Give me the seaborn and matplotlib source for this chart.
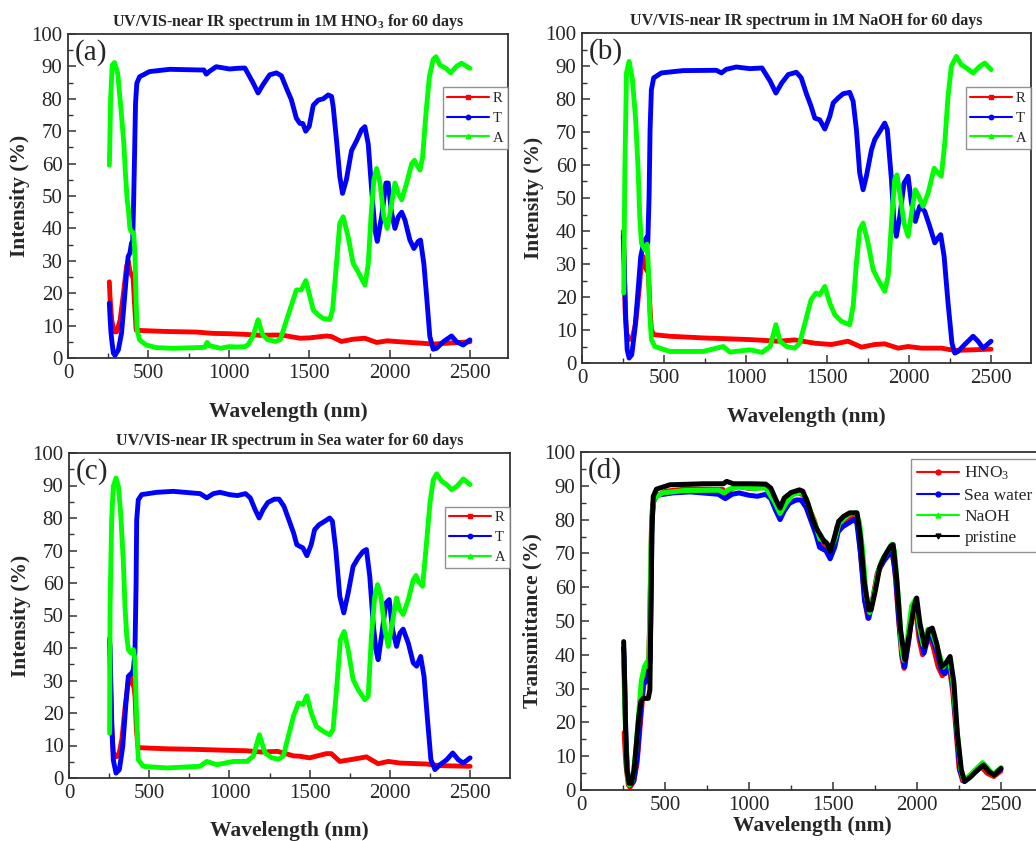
import numpy as np
import pandas as pd
import matplotlib
matplotlib.use("Agg")
import matplotlib.pyplot as plt
from matplotlib.lines import Line2D
from matplotlib.ticker import MultipleLocator
import seaborn as sns

sns.set_style("white")
plt.rcParams['font.family'] = ['Liberation Serif', 'DejaVu Serif']
plt.rcParams['mathtext.fontset'] = 'custom'
plt.rcParams['mathtext.rm'] = 'Liberation Serif'
plt.rcParams['mathtext.bf'] = 'Liberation Serif:bold'
plt.rcParams['mathtext.it'] = 'Liberation Serif:italic'

# ---------------- data ----------------
# Panel (a): 1M HNO3
a_T_wl = [257, 262, 267, 272, 282, 292, 313, 333, 349, 364, 374, 385, 395, 401, 408, 414, 420, 428, 445, 507, 632, 818, 845, 860, 880, 922, 1005, 1050, 1100, 1150, 1182, 1213, 1254, 1296, 1327, 1358, 1389, 1420, 1442, 1460, 1478, 1500, 1525, 1556, 1587, 1618, 1639, 1649, 1670, 1690, 1707, 1731, 1763, 1794, 1825, 1846, 1867, 1888, 1909, 1923, 1950, 1977, 1991, 2012, 2033, 2054, 2075, 2095, 2126, 2151, 2178, 2192, 2213, 2230, 2250, 2271, 2292, 2333, 2385, 2416, 2457, 2499]
a_T = [17, 12, 8, 5.5, 1.5, 0.8, 2.5, 7.7, 17, 26, 31.3, 32.4, 35.5, 34, 47.8, 63, 78.7, 84.8, 86.8, 88.4, 89.1, 88.9, 88.9, 87.6, 88.5, 89.9, 89.2, 89.4, 89.5, 85, 81.8, 84.4, 87.4, 88, 87.1, 83.3, 79.7, 74, 72.4, 72.4, 70, 71.5, 78, 79.6, 80, 81.2, 80.7, 77.6, 67, 56, 50.8, 55, 64, 67, 70.4, 71.4, 66, 52, 39.5, 36, 43.6, 54, 54, 44.7, 40, 43.6, 45, 42.6, 36.4, 33.8, 36, 36.4, 29, 19, 6.6, 2.7, 3, 5, 6.8, 5, 4, 5.6]
a_A_wl = [257, 259, 265, 275, 289, 309, 330, 347, 357, 368, 376, 385, 393, 408, 416, 424, 430, 445, 486, 550, 650, 800, 850, 865, 880, 950, 1000, 1050, 1100, 1120, 1150, 1182, 1210, 1240, 1290, 1320, 1350, 1380, 1420, 1450, 1479, 1504, 1525, 1556, 1587, 1628, 1645, 1666, 1690, 1711, 1742, 1773, 1804, 1846, 1867, 1884, 1902, 1919, 1940, 1964, 1985, 2006, 2033, 2054, 2075, 2106, 2137, 2154, 2168, 2189, 2205, 2226, 2247, 2271, 2288, 2313, 2350, 2379, 2416, 2447, 2499]
a_A = [59.5, 64, 80, 90.4, 91.2, 87.9, 76.5, 66.3, 57, 48.8, 45.7, 40, 39, 38.6, 32.4, 17, 8.6, 5.6, 4, 3.2, 3, 3.2, 3.3, 4.8, 3.8, 3, 3.5, 3.4, 3.5, 4.1, 6.7, 11.8, 7.2, 5.7, 5.1, 5.7, 10.3, 14.9, 21, 21, 23.9, 19, 14.8, 13.3, 12.2, 11.9, 14.8, 27, 41.6, 43.6, 37.4, 29.2, 26.6, 22.5, 29, 43.6, 55, 58.5, 54, 43.6, 40, 45.7, 54, 50.8, 48.8, 54, 60, 61, 59.6, 58, 62, 75.5, 86.8, 92.2, 93, 90.4, 89.4, 88, 90, 91, 89.4]
a_R_wl = [257, 261, 272, 286, 303, 324, 345, 364, 374, 385, 395, 405, 414, 424, 445, 600, 800, 900, 1000, 1100, 1200, 1300, 1350, 1442, 1500, 1608, 1639, 1700, 1773, 1846, 1919, 1985, 2064, 2189, 2271, 2499]
a_R = [23.5, 19, 11.7, 8.1, 8.1, 11.7, 20, 28.2, 30, 26.8, 25.7, 24.7, 16.6, 8.6, 8.5, 8.2, 8, 7.6, 7.5, 7.3, 7.0, 7.1, 6.9, 6.1, 6.2, 6.8, 6.6, 5.1, 5.8, 6.1, 4.8, 5.3, 5.0, 4.6, 4.3, 5.0]

# Panel (b): 1M NaOH
b_T_wl = [252, 258, 266, 276, 288, 304, 323, 343, 359, 377, 394, 402, 410, 416, 424, 438, 485, 617, 821, 852, 882, 943, 1025, 1100, 1150, 1185, 1220, 1260, 1310, 1340, 1370, 1400, 1423, 1453, 1484, 1514, 1535, 1565, 1596, 1636, 1657, 1677, 1697, 1718, 1738, 1769, 1789, 1820, 1850, 1866, 1891, 1907, 1921, 1942, 1968, 1993, 2013, 2037, 2064, 2094, 2125, 2156, 2176, 2192, 2213, 2237, 2261, 2278, 2298, 2339, 2390, 2420, 2451, 2500]
b_T = [38.4, 30.3, 15.2, 4, 1.5, 2.5, 10.1, 22.2, 32.3, 36.4, 38, 36.4, 50.5, 70.7, 82.8, 86.4, 87.9, 88.6, 88.7, 87.9, 89, 89.7, 89.2, 89.4, 85.4, 81.8, 84.8, 87.4, 88.1, 86.4, 81.8, 77.8, 74.2, 73.7, 70.9, 74.7, 78.8, 80.3, 81.6, 82, 79.3, 70.7, 57.6, 52.5, 56.6, 64.6, 67.7, 70.2, 72.7, 70.7, 55.6, 42.4, 38.4, 44.4, 54.5, 56.6, 48.5, 42.9, 47.5, 46, 41.4, 36.4, 37.9, 38.9, 32.3, 18.2, 6, 3, 3.5, 5.6, 8.1, 6.6, 4.5, 6.6]
b_A_wl = [255, 262, 272, 288, 308, 328, 343, 353, 363, 384, 398, 406, 414, 424, 445, 537, 740, 863, 904, 1026, 1100, 1150, 1185, 1210, 1250, 1300, 1330, 1360, 1400, 1430, 1453, 1484, 1514, 1545, 1586, 1636, 1657, 1677, 1697, 1718, 1748, 1779, 1809, 1850, 1871, 1891, 1911, 1925, 1942, 1968, 1993, 2017, 2037, 2058, 2084, 2115, 2152, 2176, 2196, 2217, 2237, 2257, 2288, 2318, 2349, 2390, 2431, 2461, 2500]
b_A = [21.2, 59, 87.9, 91.4, 85.9, 73.7, 58.6, 44.4, 36.4, 34.3, 36, 28.3, 15.2, 7.1, 5, 3.5, 3.5, 5, 3.3, 4, 3.2, 5, 11.6, 6.6, 5, 4.5, 6, 11.6, 19.2, 21.2, 20.7, 23.2, 18.2, 14.6, 12.6, 11.6, 17.2, 30.3, 40.4, 42.4, 36.4, 28.3, 25.3, 21.7, 26.3, 42.4, 55.6, 57, 51.5, 42.4, 38.4, 46.5, 52.5, 50.5, 47.5, 51.5, 59, 57.6, 56.6, 66.7, 80.8, 89.9, 92.9, 90.4, 89.4, 87.9, 89.9, 90.9, 88.9]
b_R_wl = [252, 258, 264, 272, 288, 308, 328, 349, 363, 373, 384, 394, 406, 414, 424, 438, 537, 740, 1025, 1200, 1300, 1423, 1524, 1626, 1708, 1789, 1850, 1932, 1993, 2074, 2196, 2278, 2500]
b_R = [39.9, 30, 15.2, 9.1, 7.1, 7.6, 12.1, 22.2, 30.3, 32.3, 29.3, 28.3, 27.3, 18.2, 10.1, 8.6, 8.1, 7.6, 7.1, 6.6, 7, 6, 5.6, 6.6, 4.8, 5.6, 5.8, 4.5, 5, 4.5, 4.5, 3.8, 4.2]

# Panel (c): Sea water
c_T_wl = [253, 256, 266, 276, 293, 314, 335, 355, 370, 391, 401, 411, 418, 422, 432, 453, 547, 650, 817, 859, 900, 941, 1000, 1050, 1100, 1130, 1160, 1185, 1210, 1240, 1280, 1310, 1340, 1370, 1400, 1420, 1438, 1458, 1483, 1510, 1531, 1558, 1594, 1625, 1642, 1663, 1688, 1713, 1740, 1771, 1802, 1833, 1854, 1875, 1896, 1913, 1927, 1948, 1975, 1996, 2017, 2042, 2063, 2083, 2115, 2146, 2167, 2192, 2213, 2233, 2256, 2281, 2313, 2354, 2392, 2427, 2458, 2500]
c_T = [42, 40, 18, 5.6, 1.5, 2.6, 9.7, 23, 31.3, 32.3, 33.3, 38.5, 59, 79.5, 85.6, 87.2, 87.9, 88.2, 87.5, 86.2, 87.5, 87.9, 87.2, 86.9, 87.5, 86.2, 82.6, 80, 82.6, 84.8, 85.8, 85.8, 83.6, 79.5, 75.4, 71.8, 71.3, 70.8, 68.4, 71.8, 76.4, 77.9, 79, 80, 79, 70.3, 55.9, 50.8, 56.9, 65.1, 67.7, 69.7, 70.3, 62, 47.7, 39.5, 36.4, 43.6, 53.8, 54.9, 45.6, 40.5, 44.6, 45.8, 41.5, 35.4, 34.4, 37.4, 31.3, 19, 5.6, 2.6, 4.1, 5.6, 7.7, 5.6, 4.6, 6.2]
c_A_wl = [253, 256, 266, 276, 293, 308, 322, 339, 349, 360, 370, 385, 401, 411, 422, 432, 463, 609, 817, 859, 921, 1025, 1108, 1149, 1187, 1222, 1264, 1305, 1336, 1367, 1399, 1430, 1458, 1483, 1510, 1542, 1583, 1625, 1646, 1671, 1692, 1715, 1740, 1771, 1802, 1844, 1865, 1885, 1906, 1923, 1944, 1969, 1990, 2015, 2042, 2063, 2083, 2115, 2146, 2163, 2177, 2204, 2225, 2250, 2271, 2292, 2323, 2354, 2385, 2417, 2458, 2500]
c_A = [13.8, 52.8, 79.5, 89.7, 92.3, 89.7, 81.5, 66.2, 52.8, 43.6, 39.5, 38.5, 39.5, 36.4, 18, 5.6, 3.6, 3.1, 3.6, 5.1, 4.1, 5.1, 5.1, 6.7, 13.3, 7.7, 6.2, 5.8, 6.7, 12.8, 19, 23.1, 22.6, 25.3, 20, 15.9, 14.4, 13.3, 14.9, 29.2, 42.6, 45.1, 39.5, 30.3, 27.2, 24.1, 25.1, 43.6, 55.9, 59.5, 55.9, 45.6, 40.5, 47.7, 55.4, 51.8, 50.3, 54.9, 61, 62.3, 60.5, 59, 70.3, 84.6, 91.8, 93.6, 91.3, 90.3, 88.7, 89.7, 92, 90.3]
c_R_wl = [253, 256, 266, 276, 293, 310, 330, 350, 370, 385, 395, 405, 412, 420, 430, 450, 600, 800, 1000, 1100, 1200, 1300, 1400, 1438, 1500, 1604, 1635, 1688, 1750, 1854, 1927, 1990, 2063, 2229, 2313, 2500]
c_R = [43, 35, 15, 8, 6.5, 7, 12, 22, 30, 32, 29, 28, 25, 15, 9.5, 9.3, 9, 8.8, 8.5, 8.4, 8, 8.2, 6.8, 6.7, 6.2, 7.5, 7.5, 5.1, 5.6, 6.5, 4.4, 5.1, 4.6, 4.3, 3.8, 3.6]

# Panel (d): pristine transmittance
p_wl = [254, 260, 266, 274, 286, 300, 316, 330, 344, 356, 370, 400, 410, 416, 422, 430, 449, 529, 728, 847, 867, 907, 1006, 1100, 1130, 1160, 1185, 1210, 1250, 1300, 1320, 1350, 1380, 1400, 1424, 1448, 1464, 1484, 1504, 1534, 1564, 1600, 1643, 1663, 1687, 1713, 1727, 1753, 1779, 1806, 1842, 1858, 1878, 1902, 1928, 1952, 1982, 1998, 2017, 2047, 2071, 2091, 2117, 2145, 2171, 2197, 2220, 2240, 2264, 2284, 2320, 2360, 2396, 2429, 2459, 2500]
p_T = [43.9, 31.6, 16.8, 5.9, 2, 2, 5.9, 13.8, 21.7, 26.2, 27.1, 27.1, 29.6, 53.3, 76, 86.9, 89, 90.3, 90.6, 90.6, 91.3, 90.6, 90.6, 90.5, 89.3, 85.9, 83.4, 86.4, 88, 88.8, 88.4, 84.9, 80, 77.5, 75.5, 73.5, 73, 70.6, 74, 79.5, 81, 82, 82, 75, 61.2, 53.3, 53.3, 59.2, 66.1, 69.1, 72.1, 72.6, 63.2, 47.4, 38.5, 45.4, 54.3, 56.8, 49.4, 42.4, 47.4, 47.9, 43.4, 36.5, 37.5, 39.5, 31.6, 16.8, 5.9, 2.5, 3.9, 5.9, 7.4, 5.4, 4.4, 6.4]

titles = ["UV/VIS-near IR spectrum in 1M HNO$_{\\mathbf{3}}$ for 60 days",
          "UV/VIS-near IR spectrum in 1M NaOH for 60 days",
          "UV/VIS-near IR spectrum in Sea water for 60 days"]
panel_labels = ["(a)", "(b)", "(c)", "(d)"]
rta_labels = ["R", "T", "A"]
d_labels = ["HNO$_3$", "Sea water", "NaOH", "pristine"]

RED, BLUE, GREEN, BLACK = "#ff0000", "#0000ff", "#00ff00", "#000000"

fig = plt.figure(figsize=(10.36, 8.41), dpi=100)
W, H = 1036, 841

def px_axes(l, t, r, b):
    return fig.add_axes([l / W, 1 - b / H, (r - l) / W, (b - t) / H])

def style(ax, xmax, ylabel, xlabelpad):
    ax.set_xlim(0, xmax)
    ax.set_ylim(0, 100)
    ax.xaxis.set_major_locator(MultipleLocator(500))
    ax.xaxis.set_minor_locator(MultipleLocator(250))
    ax.yaxis.set_major_locator(MultipleLocator(10))
    ax.yaxis.set_minor_locator(MultipleLocator(5))
    ax.tick_params(which='both', direction='in', top=False, right=False,
                   bottom=True, left=True, color='#333333')
    ax.tick_params(which='major', length=6, width=1.1, labelsize=15, pad=4)
    ax.tick_params(which='minor', length=3.5, width=1.0)
    for s in ax.spines.values():
        s.set_color('#333333')
        s.set_linewidth(1.3)
    ax.set_xlabel("Wavelength (nm)", fontsize=15.5, fontweight='bold', labelpad=xlabelpad)
    ax.set_ylabel(ylabel, fontsize=15.5, fontweight='bold', labelpad=1)

axes_px = [(68, 34, 508, 358, 2736), (582, 33, 1031, 363, 2744), (69, 453, 510, 778, 2749)]
rta_data = [((a_R_wl, a_R), (a_T_wl, a_T), (a_A_wl, a_A)),
            ((b_R_wl, b_R), (b_T_wl, b_T), (b_A_wl, b_A)),
            ((c_R_wl, c_R), (c_T_wl, c_T), (c_A_wl, c_A))]
rta_colors = [RED, BLUE, GREEN]
rta_markers = ['s', 'o', '^']

for i in range(3):
    l, t, r, b, xmax = axes_px[i]
    ax = px_axes(l, t, r, b)
    for (wl, vals), col in zip(rta_data[i], rta_colors):
        df = pd.DataFrame({"wl": wl, "v": vals})
        sns.lineplot(data=df, x="wl", y="v", ax=ax, color=col, lw=3.5,
                     sort=False, estimator=None, legend=False)
    style(ax, xmax, "Intensity (%)", 14 if i < 2 else 13)
    ax.set_title(titles[i], fontsize=11.5, fontweight='bold', pad=6)
    ax.text(0.015, 0.985, panel_labels[i], transform=ax.transAxes,
            ha='left', va='top', fontsize=21)
    handles = [Line2D([], [], color=c, lw=1.5, marker=m, ms=3.2)
               for c, m in zip(rta_colors, rta_markers)]
    leg = ax.legend(handles, rta_labels, loc='upper right', bbox_to_anchor=(1.0, 0.835),
                    fontsize=10.5, handlelength=2.9, frameon=True, fancybox=False,
                    borderpad=0.3, labelspacing=0.45, handletextpad=0.25,
                    borderaxespad=0.0)
    leg.get_frame().set_edgecolor('#777777')
    leg.get_frame().set_linewidth(1.0)

# Panel (d)
axd = px_axes(581, 452, 1043, 790)
d_series = [(a_T_wl, a_T, RED), (c_T_wl, c_T, BLUE), (b_T_wl, b_T, GREEN), (p_wl, p_T, BLACK)]
for wl, vals, col in d_series:
    df = pd.DataFrame({"wl": wl, "v": vals})
    sns.lineplot(data=df, x="wl", y="v", ax=axd, color=col, lw=3.6,
                 sort=False, estimator=None, legend=False)
style(axd, 2750, "Transmittance (%)", 1)
axd.text(0.015, 0.985, panel_labels[3], transform=axd.transAxes,
         ha='left', va='top', fontsize=21)
d_handles = [Line2D([], [], color=c, lw=1.5, marker=m, ms=3.5)
             for c, m in zip([RED, BLUE, GREEN, BLACK], ['o', 'o', '^', 'v'])]
legd = axd.legend(d_handles, d_labels, loc='upper left', bbox_to_anchor=(0.715, 0.98),
                  fontsize=12.5, handlelength=2.4, frameon=True, fancybox=False,
                  borderpad=0.35, labelspacing=0.3, handletextpad=0.3,
                  borderaxespad=0.0)
legd.get_frame().set_edgecolor('#777777')
legd.get_frame().set_linewidth(1.0)

fig.savefig("out.png", dpi=100)
